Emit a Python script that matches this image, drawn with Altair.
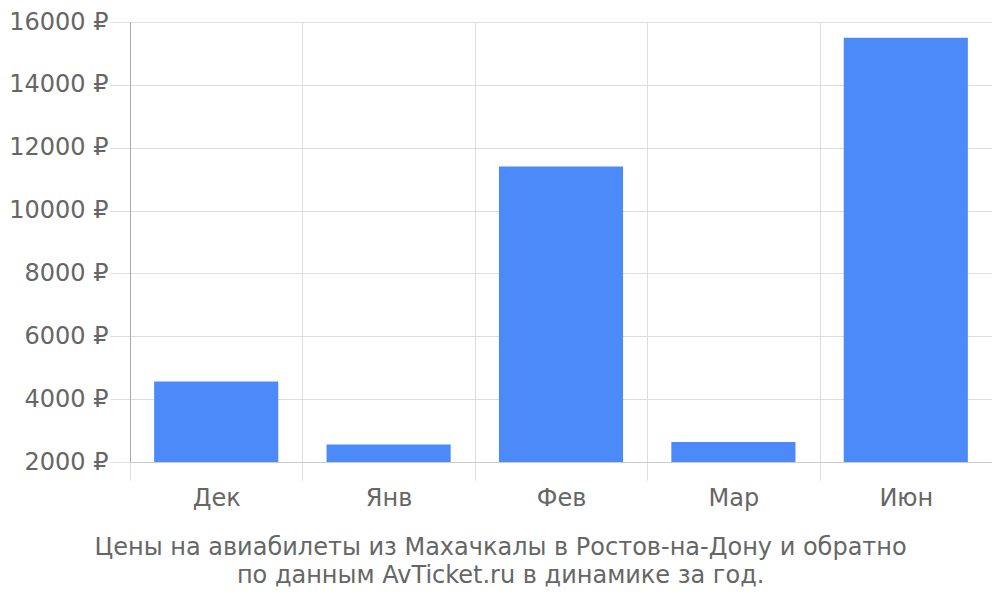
import altair as alt
import pandas as pd

months = ["Дек", "Янв", "Фев", "Мар", "Июн"]
prices = [4560, 2560, 11400, 2640, 15500]
y_ticks = [2000, 4000, 6000, 8000, 10000, 12000, 14000, 16000]
title_lines = ["Цены на авиабилеты из Махачкалы в Ростов-на-Дону и обратно",
               "по данным AvTicket.ru в динамике за год."]

df = pd.DataFrame({"month": months, "price": prices})

FONT = "DejaVu Sans"

chart = alt.Chart(df).mark_bar(
    color="#4d8af9", width=alt.RelativeBandSize(0.72)
).encode(
    x=alt.X("month:N", sort=months, title=None,
            scale=alt.Scale(paddingInner=0, paddingOuter=0),
            axis=alt.Axis(tickBand="extent", grid=True, gridColor="#dddddd",
                          tickColor="#dddddd", tickSize=18, domainColor="#cccccc",
                          labelAngle=0, labelFont=FONT, labelFontSize=24,
                          labelColor="#666666", labelPadding=6)),
    y=alt.Y("price:Q", title=None,
            scale=alt.Scale(domain=[2000, 16000], zero=False, nice=False),
            axis=alt.Axis(values=y_ticks, labelExpr="datum.value + ' ₽'",
                          gridColor="#dddddd", tickColor="#dddddd", tickSize=20,
                          domainColor="#aaaaaa", labelFont=FONT, labelFontSize=24,
                          labelColor="#666666", labelPadding=2)),
    y2=alt.datum(2000),
).properties(
    width=862, height=440,
    autosize=alt.AutoSizeParams(type="none"),
    padding={"left": 122, "top": 14, "right": 0, "bottom": 130},
    title=alt.TitleParams(text=title_lines, orient="bottom", anchor="middle",
                          frame="bounds", font=FONT, fontSize=24,
                          fontWeight="normal", color="#666666", offset=26,
                          lineHeight=28),
).configure_view(stroke=None)

chart.save("out.html", embed_options={"renderer": "svg", "actions": False})
